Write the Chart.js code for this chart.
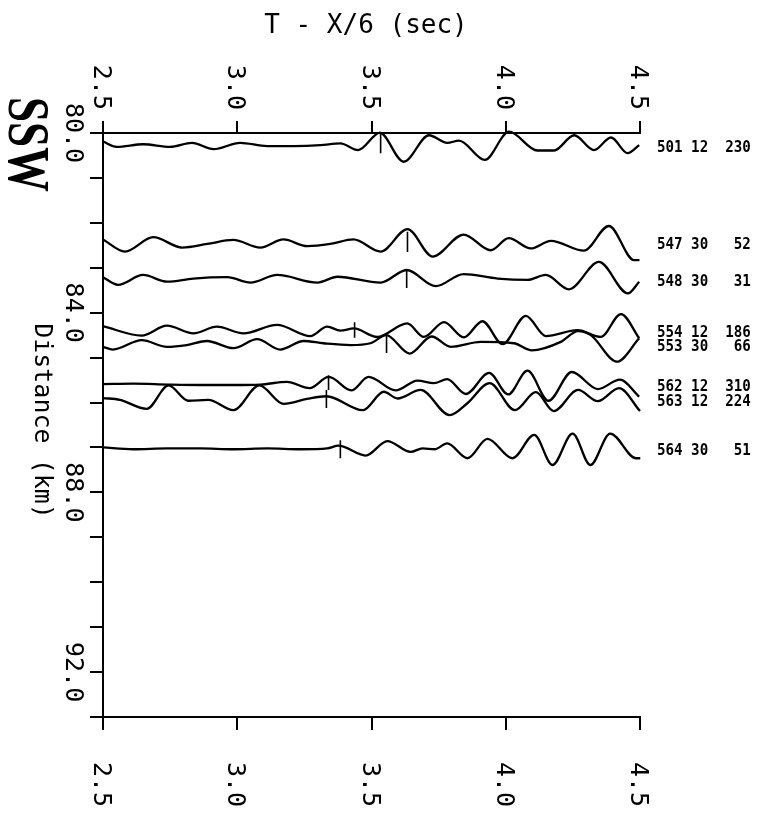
<!DOCTYPE html>
<html lang="en">
<head>
<meta charset="UTF-8">
<title>SSW record section</title>
<style>
  body { margin: 0; background: #fff; }
  #wrap { width: 764px; height: 819px; }
</style>
</head>
<body>
<div id="wrap"><canvas id="section" width="764" height="819"></canvas></div>
<script src="https://cdn.jsdelivr.net/npm/chart.js"></script>
<script>
// axis ticks: reduced time T - X/6 (sec) and distance (km)
const timeTicks = [2.5, 3.0, 3.5, 4.0, 4.5];
const distTicks = [80, 84, 88, 92];

// station labels (station, component, gain) and nominal distance of each trace
const stationLabels = ['501 12  230', '547 30   52', '548 30   31', '554 12  186',
                       '553 30   66', '562 12  310', '563 12  224', '564 30   51'];
const stationDist = [80.29, 82.45, 83.27, 84.40, 84.72, 85.61, 85.94, 87.04];

// traces: time (s) and plotted distance (km)
const t501 = [2.500, 2.551, 2.650, 2.750, 2.831, 2.912, 3.011, 3.111, 3.210, 3.310, 3.384, 3.450, 3.531,
              3.620, 3.714, 3.782, 3.826, 3.922, 4.012, 4.118, 4.180, 4.255, 4.329, 4.392, 4.454, 4.497];
const d501 = [80.19, 80.31, 80.25, 80.31, 80.22, 80.36, 80.22, 80.29, 80.29, 80.27, 80.23, 80.38, 79.99,
              80.64, 80.05, 80.22, 80.17, 80.60, 79.97, 80.39, 80.39, 80.05, 80.38, 80.10, 80.45, 80.27];

const t547 = [2.500, 2.582, 2.687, 2.795, 2.888, 2.985, 3.086, 3.172, 3.261, 3.347, 3.433, 3.534,
              3.634, 3.728, 3.843, 3.944, 4.011, 4.093, 4.168, 4.291, 4.384, 4.478, 4.498];
const d547 = [82.37, 82.64, 82.32, 82.55, 82.47, 82.38, 82.55, 82.37, 82.52, 82.47, 82.37, 82.64,
              82.14, 82.75, 82.26, 82.61, 82.34, 82.57, 82.40, 82.62, 82.07, 82.83, 82.83];

const t548 = [2.500, 2.556, 2.649, 2.739, 2.836, 2.963, 3.049, 3.149, 3.299, 3.373, 3.534,
              3.631, 3.739, 3.843, 3.970, 4.082, 4.149, 4.235, 4.347, 4.455, 4.497];
const d548 = [83.21, 83.38, 83.16, 83.31, 83.24, 83.21, 83.33, 83.16, 83.33, 83.20, 83.33,
              83.05, 83.41, 83.14, 83.24, 83.27, 83.16, 83.48, 82.87, 83.57, 83.31];

const t554 = [2.500, 2.644, 2.738, 2.837, 2.924, 3.023, 3.148, 3.272, 3.335, 3.384, 3.434, 3.521,
              3.633, 3.695, 3.770, 3.844, 3.913, 3.988, 4.075, 4.149, 4.268, 4.354, 4.429, 4.497];
const d554 = [84.30, 84.51, 84.29, 84.46, 84.31, 84.46, 84.27, 84.52, 84.31, 84.40, 84.35, 84.54,
              84.24, 84.54, 84.21, 84.55, 84.19, 84.70, 84.07, 84.52, 84.39, 84.54, 84.03, 84.57];

const t553 = [2.500, 2.537, 2.644, 2.738, 2.812, 2.887, 2.986, 3.074, 3.160, 3.247, 3.321, 3.422, 3.496,
              3.555, 3.642, 3.724, 3.795, 3.907, 4.030, 4.097, 4.205, 4.269, 4.317, 4.414, 4.497];
const d553 = [84.76, 84.82, 84.61, 84.76, 84.72, 84.63, 84.79, 84.59, 84.82, 84.63, 84.68, 84.72, 84.68,
              84.50, 84.91, 84.53, 84.76, 84.65, 84.68, 84.84, 84.65, 84.41, 84.50, 85.09, 84.57];

const t562 = [2.500, 2.612, 2.743, 2.862, 2.985, 3.086, 3.185, 3.269, 3.341, 3.425, 3.489, 3.590,
              3.671, 3.732, 3.782, 3.851, 3.938, 4.009, 4.081, 4.159, 4.246, 4.343, 4.425, 4.497];
const d562 = [85.59, 85.58, 85.60, 85.61, 85.61, 85.60, 85.54, 85.68, 85.43, 85.73, 85.43, 85.73,
              85.51, 85.57, 85.48, 85.81, 85.34, 85.82, 85.29, 85.96, 85.32, 85.70, 85.49, 85.87];

const t563 = [2.500, 2.563, 2.663, 2.744, 2.817, 2.892, 2.986, 3.082, 3.173, 3.260, 3.332, 3.468, 3.546,
              3.597, 3.683, 3.791, 3.858, 3.940, 4.034, 4.112, 4.179, 4.269, 4.343, 4.422, 4.500];
const d563 = [85.90, 85.94, 86.14, 85.62, 85.96, 85.94, 86.17, 85.62, 86.03, 85.92, 85.86, 86.17, 85.76,
              85.91, 85.72, 86.28, 86.01, 85.57, 86.17, 85.77, 86.19, 85.72, 85.97, 85.68, 86.19];

const t564 = [2.500, 2.612, 2.739, 2.862, 2.985, 3.112, 3.235, 3.335, 3.377, 3.478, 3.559, 3.646, 3.690,
              3.735, 3.782, 3.857, 3.932, 4.025, 4.106, 4.174, 4.249, 4.315, 4.389, 4.485, 4.501];
const d564 = [87.00, 87.04, 87.02, 87.02, 87.04, 87.02, 87.04, 87.02, 86.96, 87.18, 86.86, 87.10, 87.02,
              87.04, 86.91, 87.24, 86.81, 87.24, 86.72, 87.39, 86.69, 87.39, 86.69, 87.24, 87.24];

// pick marks: time and top / bottom distance of the short bar
const pickTime   = [3.534, 3.634, 3.631, 3.437, 3.556, 3.340, 3.332, 3.384];
const pickTop    = [80.00, 82.20, 83.05, 84.21, 84.50, 85.39, 85.72, 86.84];
const pickBottom = [80.45, 82.65, 83.45, 84.56, 84.90, 85.72, 86.12, 87.24];

const traces = [[t501, d501], [t547, d547], [t548, d548], [t554, d554],
                [t553, d553], [t562, d562], [t563, d563], [t564, d564]];

const datasets = traces.map(([t, d]) => ({
  data: t.map((v, i) => ({ x: v, y: d[i] })),
  showLine: true,
  borderColor: '#000',
  borderWidth: 2.3,
  pointRadius: 0,
  cubicInterpolationMode: 'monotone',
  clip: false
}));
pickTime.forEach((t, i) => datasets.push({
  data: [{ x: t, y: pickTop[i] }, { x: t, y: pickBottom[i] }],
  showLine: true,
  borderColor: '#000',
  borderWidth: 1.6,
  pointRadius: 0,
  clip: false
}));

// text drawn rotated 90deg clockwise, centred on column cx
function sideways(ctx, text, cx, py, align, font, capH) {
  ctx.save();
  ctx.translate(cx, py);
  ctx.rotate(Math.PI / 2);
  ctx.font = font;
  ctx.textAlign = align;
  ctx.textBaseline = 'alphabetic';
  ctx.fillText(text, 0, capH / 2);
  ctx.restore();
}

const sectionText = {
  id: 'sectionText',
  afterDraw(chart) {
    const { ctx, chartArea: a, scales: { x, y } } = chart;
    const tickFont = '25px "DejaVu Sans Mono"';
    const capH = 18;
    ctx.save();
    ctx.fillStyle = '#000';

    ctx.font = '26px "DejaVu Sans Mono"';
    ctx.textAlign = 'center';
    ctx.textBaseline = 'alphabetic';
    ctx.fillText('T - X/6 (sec)', 366, 33);

    timeTicks.forEach(v => {
      const px = x.getPixelForValue(v);
      sideways(ctx, v.toFixed(1), px, a.top - 23, 'right', tickFont, capH);
      sideways(ctx, v.toFixed(1), px, a.bottom + 45, 'left', tickFont, capH);
    });
    distTicks.forEach(v => {
      sideways(ctx, v.toFixed(1), 75, y.getPixelForValue(v), 'center', tickFont, capH);
    });
    sideways(ctx, 'Distance (km)', 44, (a.top + a.bottom) / 2 - 4, 'center', tickFont, capH);

    // big SSW tag
    ctx.save();
    ctx.translate(9, 97);
    ctx.rotate(Math.PI / 2);
    ctx.font = 'bold 60px "Liberation Serif"';
    const w = ctx.measureText('SSW').width;
    ctx.scale(95 / w, 1);
    ctx.textAlign = 'left';
    ctx.textBaseline = 'alphabetic';
    ctx.fillText('SSW', 0, 0);
    ctx.restore();

    // station labels, slightly condensed bold mono
    ctx.font = 'bold 16px "DejaVu Sans Mono"';
    ctx.textAlign = 'left';
    ctx.textBaseline = 'alphabetic';
    stationLabels.forEach((s, i) => {
      ctx.save();
      ctx.translate(a.right + 17, y.getPixelForValue(stationDist[i]) + 6);
      ctx.scale(0.885, 1);
      ctx.fillText(s, 0, 0);
      ctx.restore();
    });
    ctx.restore();
  }
};

const axisGrid = len => ({ drawOnChartArea: false, drawTicks: true, tickLength: len, color: '#000', lineWidth: 2 });
const axisBorder = { display: true, color: '#000', width: 2 };

new Chart(document.getElementById('section'), {
  type: 'scatter',
  data: { datasets },
  options: {
    responsive: false,
    animation: false,
    layout: { padding: { left: 90, right: 124, top: 121, bottom: 89 } },
    plugins: { legend: { display: false }, tooltip: { enabled: false } },
    scales: {
      x: {
        type: 'linear', position: 'bottom', min: 2.5, max: 4.5,
        ticks: { stepSize: 0.5, display: false },
        grid: axisGrid(13), border: axisBorder,
        afterFit: s => { s.height = 13; }
      },
      xTop: {
        type: 'linear', axis: 'x', position: 'top', min: 2.5, max: 4.5,
        ticks: { stepSize: 0.5, display: false },
        grid: axisGrid(12), border: axisBorder,
        afterFit: s => { s.height = 12; }
      },
      y: {
        type: 'linear', position: 'left', min: 80, max: 93, reverse: true,
        ticks: { stepSize: 1, display: false },
        grid: axisGrid(13), border: axisBorder,
        afterFit: s => { s.width = 13; }
      }
    }
  },
  plugins: [sectionText]
});
</script>
</body>
</html>
